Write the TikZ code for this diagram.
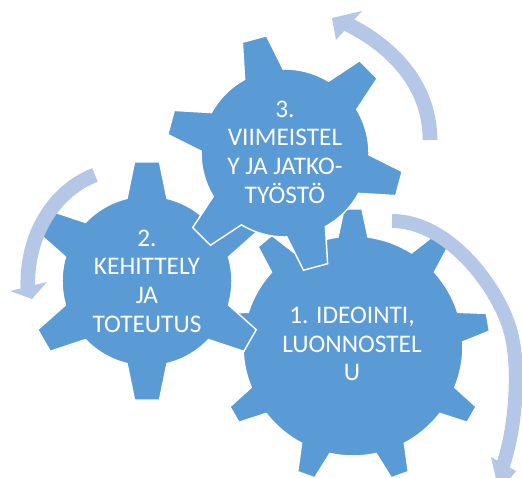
\documentclass[tikz,border=0pt]{standalone}
\usepackage{fontspec}
\setmainfont{Carlito}
\definecolor{gearblue}{RGB}{91,155,213}
\definecolor{arrowblue}{RGB}{180,199,231}
\tikzset{
  gearfill/.style={fill=gearblue, draw=white, line width=1.1pt, line join=miter},
  geartext/.style={text=white, align=center, font=\fontsize{19}{21.5}\selectfont, inner sep=0pt},
  arrowshaft/.style={draw=arrowblue, line width=10.5pt},
  arrowtip/.style={fill=arrowblue},
}
\newcommand\mygear[8]{%
  \pgfmathsetmacro\gstep{360/#5}%
  \pgfmathsetmacro\gdb{asin(#6/#3)}%
  \pgfmathsetmacro\gdt{atan(#7/#4)}%
  \pgfmathsetmacro\gRt{veclen(#4,#7)}%
  \pgfmathtruncatemacro\glast{#5-1}%
  \path[gearfill, shift={(#1,#2)}] (#8-\gdb:#3)
    \foreach \k [evaluate=\k as \a using #8+\k*\gstep] in {0,...,\glast} {
      -- (\a-\gdt:\gRt) -- (\a+\gdt:\gRt) -- (\a+\gdb:#3)
      arc[start angle=\a+\gdb, end angle=\a+\gstep-\gdb, radius=#3]
    } -- cycle;
}
\begin{document}
\begin{tikzpicture}[x=0.75pt, y=-0.75pt]
\useasboundingbox (0,0) rectangle (522,478);
\clip (0,0) rectangle (522,478);
% gear 1 (large)
\mygear{353}{346}{110}{137}{9}{15}{9}{-90}
\node[geartext] (t1) at (352,344) {1. IDEOINTI,\\LUONNOSTEL\\U};
% gear 2
\mygear{147}{281}{85}{119}{6}{20}{12.5}{30}
\node[geartext] (t2) at (147,281) {2.\\KEHITTELY\\JA\\TOTEUTUS};
% gear 3
\mygear{285}{153}{84}{118}{6}{20}{12.5}{15}
\node[geartext] (t3) at (285,152) {3.\\VIIMEISTEL\\Y JA JATKO-\\TYÖSTÖ};
% arrow around gear 1
\draw[arrowshaft] (392,221) .. controls (450,221) and (500,290) .. (511,333)
  .. controls (520,368) and (516,430) .. (502,468);
\fill[arrowtip] (491,457) -- (516,471) -- (499,492) -- cycle;
% arrow around gear 3
\draw[arrowshaft, line width=11pt] (430,140) .. controls (430,80) and (385,42) .. (345,23);
\fill[arrowtip] (362,11) -- (336,40) -- (332,18) -- cycle;
% arrow around gear 2
\draw[arrowshaft, line width=11pt] (95,175) .. controls (55,190) and (25,235) .. (28,291);
\fill[arrowtip] (10,291) -- (47,282) -- (32,299) -- cycle;
\end{tikzpicture}
\end{document}
